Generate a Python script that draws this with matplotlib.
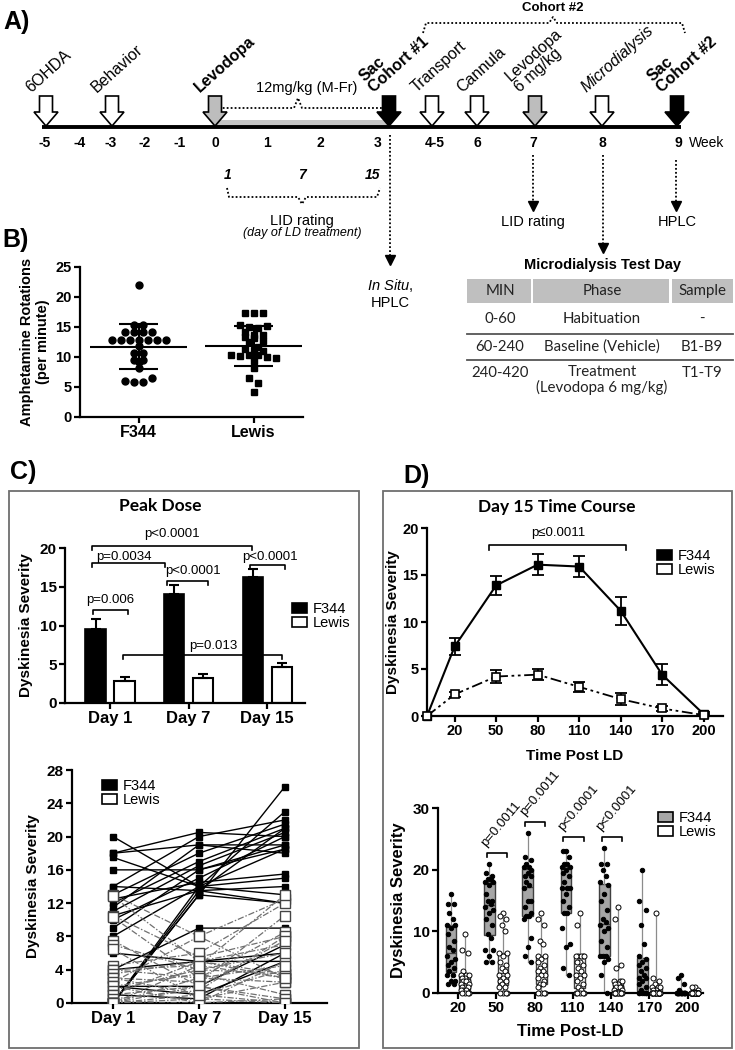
import numpy as np
import matplotlib
matplotlib.use("Agg")
import matplotlib.pyplot as plt
from matplotlib.patches import Polygon, Rectangle, Patch

plt.rcParams['font.family'] = ['Liberation Sans', 'DejaVu Sans']
plt.rcParams['mathtext.fontset'] = 'custom'
plt.rcParams['mathtext.it'] = 'Liberation Sans:italic'
plt.rcParams['mathtext.rm'] = 'Liberation Sans'

W, H = 735, 1050

# ---------------- data ----------------
week_labels = ["-5", "-4", "-3", "-2", "-1", "0", "1", "2", "3", "4-5", "6", "7", "8", "9"]
events = ["6OHDA", "Behavior", "Levodopa", "Sac\nCohort #1", "Transport", "Cannula",
          "Levodopa\n6 mg/kg", "Microdialysis", "Sac\nCohort #2"]
lid_days = ["1", "7", "15"]

table_head = ["MIN", "Phase", "Sample"]
table_rows = [["0-60", "Habituation", "-"],
              ["60-240", "Baseline (Vehicle)", "B1-B9"],
              ["240-420", "Treatment\n(Levodopa 6 mg/kg)", "T1-T9"]]

strains = ["F344", "Lewis"]
amph_f344 = [22.0, 15.4, 15.4, 14.2, 14.2, 14.2, 14.2, 12.9, 12.9, 12.9, 12.9, 12.9, 12.9, 12.9,
             11.8, 10.7, 10.7, 9.5, 9.5, 9.1, 8.1, 6.0, 5.9, 5.9, 6.5]
amph_lewis = [17.3, 17.3, 17.3, 15.3, 15.0, 14.8, 15.2, 14.1, 13.6, 13.3, 13.2, 13.6, 12.7, 12.5,
              11.6, 11.3, 11.2, 11.0, 10.4, 10.2, 10.3, 10.4, 10.0, 9.8, 9.3, 8.1, 6.5, 5.6, 4.1]

days = ["Day 1", "Day 7", "Day 15"]
peak_f344 = [9.6, 14.1, 16.2]
peak_f344_sem = [1.2, 1.1, 1.1]
peak_lewis = [2.8, 3.2, 4.6]
peak_lewis_sem = [0.6, 0.5, 0.6]

f344_d1 = [20, 18, 18, 17.5, 16, 14, 14, 13, 12.5, 12, 11.5, 11, 10.5, 10, 9, 8, 6, 4, 4, 2, 2, 1, 0, 0, 0, 0]
f344_d7 = [14, 20.5, 19, 14, 16, 20, 13.5, 18, 14.5, 17, 19, 16.5, 13.5, 15, 16, 14, 5, 5, 9, 1, 2, 0.5, 13, 14, 13.5, 13]
f344_d15 = [13, 20, 19, 15, 18.5, 22, 14, 21.5, 15.5, 21, 18, 20.5, 12, 20, 19, 18.5, 6, 5, 9, 5, 7, 6, 26, 23, 21, 12]
lewis_d1 = [13, 12.8, 10.5, 10.3, 7.5, 7, 6.5, 4.5, 4, 4, 3.5, 3, 3, 2.5, 2, 2, 1.5, 1, 1, 0.5, 0, 0, 0, 0, 0, 0]
lewis_d7 = [8, 5, 5.5, 3, 2, 4, 0.5, 6, 4.5, 3, 5, 2.5, 1, 8, 3.5, 0, 4, 2, 5, 1.5, 3, 0.5, 2, 0, 4.5, 1]
lewis_d15 = [12.5, 3, 8, 2.5, 0.5, 3.5, 0, 12, 13, 8.5, 7, 10.5, 4, 3, 1, 5, 6, 0, 3.5, 8, 4.5, 2.5, 7.5, 0.5, 3, 0]

time_post = [0, 20, 50, 80, 110, 140, 170, 200]
tc_f344 = [0, 7.4, 13.9, 16.1, 15.9, 11.2, 4.4, 0.2]
tc_f344_sem = [0, 0.9, 1.0, 1.1, 1.1, 1.5, 1.1, 0.2]
tc_lewis = [0, 2.3, 4.2, 4.4, 3.1, 1.8, 0.8, 0.1]
tc_lewis_sem = [0, 0.3, 0.7, 0.6, 0.5, 0.6, 0.3, 0.1]

time_labels = ["20", "50", "80", "110", "140", "170", "200"]
f344_tp = [
    [16, 14.5, 14.5, 13, 12, 11, 11, 10.5, 9.5, 8.5, 7.5, 7, 6, 5.5, 5, 4.5, 4, 3.5, 3, 3, 2, 2, 1.5, 1.5],
    [21, 19.5, 19, 18.5, 18.5, 18, 18, 17.5, 16, 15, 15, 14.5, 14, 13.5, 13, 12, 11, 9.5, 9, 7, 7, 6, 5, 5],
    [26, 22, 21.5, 21, 20.5, 20.5, 20, 19.5, 19, 19, 18, 17.5, 17, 15, 15, 14, 13, 12.5, 12.5, 12, 9, 7.5, 6, 5],
    [23, 23, 22, 21, 21, 20.5, 20.5, 20, 19.5, 19, 18, 17, 17, 17, 16, 15, 14, 13, 13, 10.5, 8, 7.5, 4, 3],
    [23.5, 21, 21, 20, 19, 18, 17.5, 16, 15, 13.5, 12, 11.5, 11, 10.5, 10, 8.5, 7.5, 6, 6, 6, 5.5, 5, 3, 0],
    [20, 15, 13.5, 11, 8, 6, 5.5, 5, 4.5, 4, 3.5, 3, 2.5, 2.5, 2, 1.5, 1, 0.5, 0, 0, 0, 0, 0, 0],
    [3, 2.5, 1.5, 0.5, 0, 0, 0, 0, 0, 0, 0, 0, 0, 0, 0, 0, 0, 0, 0, 0, 0, 0, 0, 0],
]
lewis_tp = [
    [9.5, 7, 6.5, 3.5, 3, 3, 3, 2.5, 2.5, 2, 2, 2, 1.5, 1.5, 1, 1, 1, 0.5, 0.5, 0.5, 0, 0, 0, 0],
    [13, 12.5, 12, 11, 10, 6.5, 6.5, 6, 5, 4.5, 4, 3.5, 3, 3, 2.5, 2, 2, 1.5, 1, 1, 0, 0, 0, 0],
    [13, 12, 11, 8.5, 8, 6, 6, 5.5, 5, 4.5, 4, 3.5, 3.5, 3, 3, 2.5, 2, 1.5, 1.5, 1, 0, 0, 0, 0],
    [13, 11, 6, 6, 6, 6, 6, 5, 5, 4.5, 4, 3.5, 3, 3, 2.5, 2, 1.5, 1, 0.5, 0, 0, 0, 0, 0],
    [14, 12, 4.5, 4, 2, 2, 2, 1.5, 1.5, 1, 1, 1, 0.5, 0.5, 0, 0, 0, 0, 0, 0, 0, 0, 0, 0],
    [13, 2.5, 2, 1.5, 1, 1, 1, 0.5, 0.5, 0, 0, 0, 0, 0, 0, 0, 0, 0, 0, 0, 0, 0, 0, 0],
    [1, 1, 0.5, 0, 0, 0, 0, 0, 0, 0, 0, 0, 0, 0, 0, 0, 0, 0, 0, 0, 0, 0, 0, 0],
]

# ---------------- helpers ----------------
fig = plt.figure(figsize=(W / 100, H / 100), dpi=100)


def px_axes(l, t, r, b):
    return fig.add_axes([l / W, 1 - b / H, (r - l) / W, (b - t) / H])


def style(ax, fs=10.5):
    for s in ["top", "right"]:
        ax.spines[s].set_visible(False)
    for s in ["left", "bottom"]:
        ax.spines[s].set_linewidth(1.6)
    ax.tick_params(width=1.6, length=4, labelsize=fs, pad=2)
    plt.setp(ax.get_xticklabels() + ax.get_yticklabels(), fontweight="bold")
    ax.patch.set_alpha(0)


def legend(ax, x, y, colors):
    hs = [Patch(facecolor=c, edgecolor="black", lw=1.2) for c in colors]
    ax.legend(hs, strains, loc="upper left", bbox_to_anchor=(x / W, 1 - y / H),
              bbox_transform=fig.transFigure, frameon=False, fontsize=10.5,
              handlelength=1.05, handleheight=0.75, handletextpad=0.4,
              labelspacing=0.0, borderpad=0, borderaxespad=0)


def bracket(ax, x1, x2, y, h, lw=1.2):
    ax.plot([x1, x1, x2, x2], [y - h, y, y, y - h], color="black", lw=lw, clip_on=False)


def swarm(vals, binw=1.0, step=0.078):
    vals = np.asarray(vals, dtype=float)
    offs = np.zeros(len(vals))
    keys = np.round(vals / binw)
    for k in np.unique(keys):
        idx = np.where(keys == k)[0]
        offs[idx] = (np.arange(len(idx)) - (len(idx) - 1) / 2) * step
    return offs


# ---------------- overlay (schematic, labels, frames) ----------------
ov = fig.add_axes([0, 0, 1, 1])
ov.set_xlim(0, W)
ov.set_ylim(H, 0)
ov.axis("off")

for lab, x, y in [("A)", 3, 22), ("B)", 2, 240), ("C)", 10, 472), ("D)", 403, 476)]:
    ov.text(x, y, lab, fontsize=18, fontweight="bold", va="center", ha="left")

# timeline
week_x = [45, 80, 111, 145, 180, 215, 267, 320, 378, 435, 477, 533, 602, 678]
ov.add_patch(Rectangle((215, 120), 172, 6, fc="#c4c4c4", ec="none"))
ov.plot([42, 681], [127, 127], color="black", lw=2.8, solid_capstyle="butt")
for lab, x in zip(week_labels, week_x):
    ov.text(x, 143, lab, ha="center", va="center", fontsize=10, fontweight="bold")
ov.text(707, 143, "Week", ha="center", va="center", fontsize=10)

event_x = [46, 112, 215, 389, 432, 477, 535, 602, 677]
event_fc = ["white", "white", "#bdbdbd", "black", "white", "white", "#bdbdbd", "white", "black"]
event_wt = ["normal", "normal", "bold", "bold", "normal", "normal", "normal", "normal", "bold"]
event_st = ["normal"] * 7 + ["italic", "normal"]
for lab, x, fc, wt, st in zip(events, event_x, event_fc, event_wt, event_st):
    pts = [(x - 6.5, 96), (x + 6.5, 96), (x + 6.5, 112), (x + 12, 112), (x, 126),
           (x - 12, 112), (x - 6.5, 112)]
    ov.add_patch(Polygon(pts, closed=True, fc=fc, ec="black", lw=1.2, zorder=3))
    ov.text(x - 13, 95, lab, rotation=42, rotation_mode="anchor", ha="left", va="bottom",
            fontsize=11.5, fontweight=wt, fontstyle=st, linespacing=0.95)

dot = dict(color="black", lw=1.3, ls=(0, (1, 1.2)))
# 12 mg/kg brace
ov.plot([218, 222, 294, 298, 302, 384], [114, 108, 108, 98, 108, 108], **dot)
ov.text(307, 88, "12mg/kg (M-Fr)", ha="center", va="center", fontsize=10.5)
# cohort #2 brace
ov.plot([423, 426, 549, 553, 557, 682, 685], [33, 23, 23, 17, 23, 23, 33], **dot)
ov.text(553, 8, "Cohort #2", ha="center", va="center", fontsize=9.5, fontweight="bold")
# LID days brace
for lab, x in zip(lid_days, [228, 302, 373]):
    ov.text(x, 175, lab, ha="center", va="center", fontsize=10, fontweight="bold", fontstyle="italic")
ov.plot([227, 229, 298, 302, 306, 377, 380], [188, 197, 197, 204, 197, 197, 188], **dot)
ov.text(302, 221, "LID rating", ha="center", va="center", fontsize=10.5)
ov.text(302, 233, "(day of LD treatment)", ha="center", va="center", fontsize=9, fontstyle="italic")

# dotted down arrows
for x, y0, y1 in [(390, 135, 258), (533, 155, 204), (603, 155, 246), (676, 160, 204)]:
    ov.plot([x, x], [y0, y1], **dot)
    ov.plot([x], [y1 + 2], marker="v", ms=7, color="black")
ov.text(533, 222, "LID rating", ha="center", va="center", fontsize=10.5)
ov.text(677, 222, "HPLC", ha="center", va="center", fontsize=10.5)
ov.text(390, 286, r"$\mathit{In\ Situ}$,", ha="center", va="center", fontsize=10.5)
ov.text(390, 303, "HPLC", ha="center", va="center", fontsize=10.5)

# microdialysis table
tfont = dict(family=["Lato", "DejaVu Sans"], fontsize=10.8, color="#222222")
ov.text(603, 265, "Microdialysis Test Day", ha="center", va="center", fontsize=10.5, fontweight="bold")
col_l = [467, 533, 672]
col_r = [531, 669, 733]
col_c = [500, 602, 702]
for l, r, c, lab in zip(col_l, col_r, col_c, table_head):
    ov.add_patch(Rectangle((l, 279), r - l, 24, fc="#bfbfbf", ec="none"))
    ov.text(c, 291, lab, ha="center", va="center", **tfont)
for row, y in zip(table_rows, [319, 347, 380]):
    for c, lab in zip(col_c, row):
        ov.text(c, y if "\n" in lab else (y if y != 380 else 373), lab, ha="center",
                va="center", linespacing=1.15, **tfont)
for y in [334, 360]:
    ov.plot([467, 733], [y, y], color="#555555", lw=1.3)

# panel frames and titles
ov.add_patch(Rectangle((9, 491), 350, 557, fill=False, ec="#6e6e6e", lw=1.3))
ov.add_patch(Rectangle((383, 491), 349, 557, fill=False, ec="#6e6e6e", lw=1.3))
ttl = dict(family=["Lato", "DejaVu Sans"], fontsize=12.5, fontweight="bold", ha="center", va="center")
ov.text(160, 506, "Peak Dose", **ttl)
ov.text(557, 507, "Day 15 Time Course", **ttl)

# ---------------- panel B ----------------
axB = px_axes(80, 267, 303, 417)
for i, (vals, mk) in enumerate(zip([amph_f344, amph_lewis], ["o", "s"])):
    axB.plot(i + swarm(vals), vals, mk, color="black", ms=5 if mk == "o" else 4.6, ls="none")
    m, sd = np.mean(vals), np.std(vals, ddof=1)
    axB.hlines(m, i - 0.42, i + 0.42, color="black", lw=1.5)
    axB.vlines(i, m - sd, m + sd, color="black", lw=1.5)
    axB.hlines([m - sd, m + sd], i - 0.17, i + 0.17, color="black", lw=1.5)
axB.set_xlim(-0.51, 1.43)
axB.set_ylim(0, 25)
axB.set_yticks([0, 5, 10, 15, 20, 25])
axB.set_xticks([0, 1])
axB.set_xticklabels(strains)
style(axB, 10.5)
plt.setp(axB.get_xticklabels(), fontsize=11.5)
axB.set_ylabel("Amphetamine Rotations\n(per minute)", fontsize=10.5, fontweight="bold", labelpad=4)

# ---------------- panel C top ----------------
axC1 = px_axes(65, 548, 305, 703)
xd = np.arange(len(days))
axC1.bar(xd - 0.185, peak_f344, 0.26, color="black", edgecolor="black", lw=1.2, zorder=2)
axC1.bar(xd + 0.185, peak_lewis, 0.26, color="white", edgecolor="black", lw=1.5, zorder=2)
axC1.errorbar(xd - 0.185, peak_f344, yerr=[np.zeros(3), peak_f344_sem], fmt="none",
              ecolor="black", elinewidth=1.5, capsize=3.5, capthick=1.5, zorder=3)
axC1.errorbar(xd + 0.185, peak_lewis, yerr=[np.zeros(3), peak_lewis_sem], fmt="none",
              ecolor="black", elinewidth=1.5, capsize=3.5, capthick=1.5, zorder=3)
for x1, x2, y, tx, ty, t in [(-0.23, 1.81, 20.3, 0.79, 21.8, "p<0.0001"),
                             (-0.23, 0.70, 18.1, 0.17, 18.9, "p=0.0034"),
                             (0.73, 1.25, 15.7, 1.06, 17.0, "p<0.0001"),
                             (1.78, 2.23, 17.8, 2.04, 18.9, "p<0.0001"),
                             (-0.22, 0.23, 12.0, 0.0, 13.3, "p=0.006"),
                             (0.17, 2.19, 6.2, 1.31, 7.3, "p=0.013")]:
    bracket(axC1, x1, x2, y, 0.5)
    axC1.text(tx, ty, t, ha="center", va="center", fontsize=9.5)
axC1.set_xlim(-0.573, 2.48)
axC1.set_ylim(0, 20)
axC1.set_yticks([0, 5, 10, 15, 20])
axC1.set_xticks(xd)
axC1.set_xticklabels(days)
style(axC1, 11)
plt.setp(axC1.get_xticklabels(), fontsize=12)
axC1.set_ylabel("Dyskinesia Severity", fontsize=11, fontweight="bold", labelpad=5)
legend(axC1, 292, 602, ["black", "white"])

# ---------------- panel C bottom ----------------
axC2 = px_axes(72, 770, 327, 1003)
for a, b, c in zip(f344_d1, f344_d7, f344_d15):
    axC2.plot(xd, [a, b, c], color="black", lw=1.0, marker="s", ms=4.5, zorder=3)
for a, b, c in zip(lewis_d1, lewis_d7, lewis_d15):
    axC2.plot(xd, [a, b, c], color="#707070", lw=0.9, ls=(0, (5, 1.5, 1.2, 1.5)),
              marker="s", ms=6.5, mfc="white", mec="#444444", mew=1.0, zorder=4)
axC2.set_xlim(-0.477, 2.49)
axC2.set_ylim(0, 28)
axC2.set_yticks(range(0, 29, 4))
axC2.set_xticks(xd)
axC2.set_xticklabels(days)
style(axC2, 11)
plt.setp(axC2.get_xticklabels(), fontsize=12)
axC2.set_ylabel("Dyskinesia Severity", fontsize=11, fontweight="bold", labelpad=5)
legend(axC2, 102, 779, ["black", "white"])

# ---------------- panel D top ----------------
axD1 = px_axes(427, 528, 723, 716)
axD1.plot(time_post, tc_f344, color="black", lw=1.5, marker="s", ms=5.5, zorder=3, clip_on=False)
axD1.plot(time_post, tc_lewis, color="black", lw=1.3, ls=(0, (6, 2, 1.5, 2, 1.5, 2)),
          marker="s", ms=6, mfc="white", mec="black", mew=1.2, zorder=3, clip_on=False)
axD1.errorbar(time_post[1:], tc_f344[1:], yerr=tc_f344_sem[1:], fmt="none", ecolor="black",
              elinewidth=1.3, capsize=4, capthick=1.3)
axD1.errorbar(time_post[1:], tc_lewis[1:], yerr=tc_lewis_sem[1:], fmt="none", ecolor="black",
              elinewidth=1.3, capsize=4, capthick=1.3)
bracket(axD1, 45, 144, 18.2, 0.5)
axD1.text(95, 19.5, "p\u22640.0011", ha="center", va="center", fontsize=9.5)
axD1.set_xlim(0, 214)
axD1.set_ylim(0, 20)
axD1.set_yticks([0, 5, 10, 15, 20])
axD1.set_xticks(time_post[1:])
style(axD1, 10.5)
axD1.set_xlabel("Time Post LD", fontsize=11, fontweight="bold", labelpad=8)
axD1.set_ylabel("Dyskinesia Severity", fontsize=11, fontweight="bold", labelpad=2)
legend(axD1, 657, 549, ["black", "white"])

# ---------------- panel D bottom ----------------
axD2 = px_axes(438, 808, 703, 993)
pos = np.arange(len(time_labels))
jit = np.array([0, -0.08, 0.08, -0.04, 0.04, -0.1, 0.1])
for data, off, fc, mk in [(f344_tp, -0.18, "#a6a6a6", "black"), (lewis_tp, 0.18, "white", "white")]:
    axD2.boxplot(data, positions=pos + off, widths=0.28, whis=(0, 100), patch_artist=True,
                 showfliers=False, manage_ticks=False,
                 boxprops=dict(facecolor=fc, edgecolor="#404040", lw=1.0),
                 medianprops=dict(color="#404040", lw=1.0),
                 whiskerprops=dict(color="#8c8c8c", lw=0.9),
                 capprops=dict(color="#8c8c8c", lw=0.0))
    for p, vals in zip(pos + off, data):
        xs = p + jit[np.arange(len(vals)) % len(jit)]
        axD2.plot(xs, vals, "o", ms=3.2 if mk == "black" else 3.6, mfc=mk, mec="black",
                  mew=0.7, ls="none", zorder=4, clip_on=False)
for p, y, t in [(1, 22.7, "p=0.0011"), (2, 27.7, "p=0.0011"), (3, 25.3, "p<0.0001"), (4, 25.3, "p<0.0001")]:
    bracket(axD2, p - 0.25, p + 0.28, y, 0.6)
    axD2.text(p - 0.2, y + 0.6, t, rotation=50, rotation_mode="anchor", ha="left", va="bottom",
              fontsize=9.5)
axD2.set_xlim(-0.52, 6.4)
axD2.set_ylim(0, 30)
axD2.set_yticks([0, 10, 20, 30])
axD2.set_xticks(pos)
axD2.set_xticklabels(time_labels)
style(axD2, 11)
axD2.set_xlabel("Time Post-LD", fontsize=12, fontweight="bold", labelpad=6)
axD2.set_ylabel("Dyskinesia Severity", fontsize=12, fontweight="bold", labelpad=5)
legend(axD2, 658, 811, ["#a6a6a6", "white"])

fig.savefig("out.png", dpi=100)
